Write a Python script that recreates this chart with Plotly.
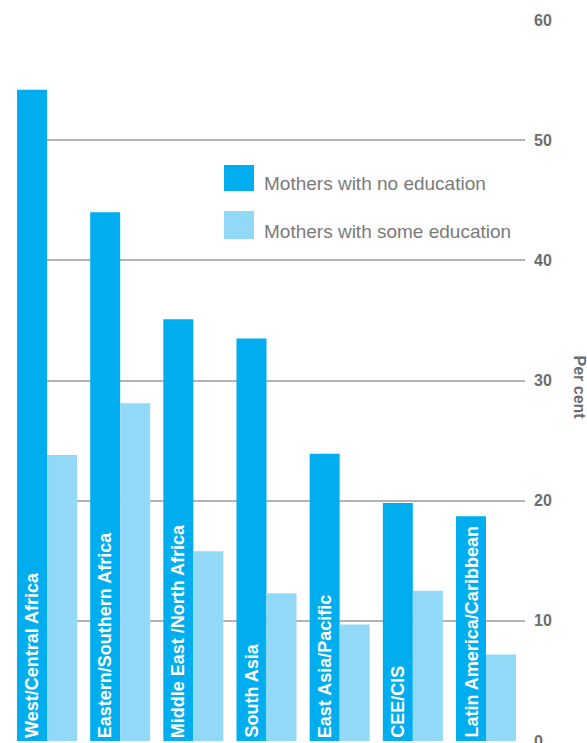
import plotly.graph_objects as go

regions = ["West/Central Africa", "Eastern/Southern Africa", "Middle East /North Africa",
           "South Asia", "East Asia/Pacific", "CEE/CIS", "Latin America/Caribbean"]
no_education = [54.2, 44.0, 35.1, 33.5, 23.9, 19.8, 18.7]
some_education = [23.8, 28.1, 15.8, 12.3, 9.7, 12.5, 7.2]
series_names = ["Mothers with no education", "Mothers with some education"]
y_ticks = [0, 10, 20, 30, 40, 50, 60]

DARK = "#00AEEF"
LIGHT = "#92D9F8"
GRAY = "#6d6d6d"
FONT = "Liberation Sans"

x = list(range(len(regions)))

fig = go.Figure()
fig.add_trace(go.Bar(x=x, y=no_education, name=series_names[0],
                     marker=dict(color=DARK, line=dict(width=0))))
fig.add_trace(go.Bar(x=x, y=some_education, name=series_names[1],
                     marker=dict(color=LIGHT, line=dict(width=0))))

W, H = 587, 743
PL, PR, PT, PB = 17, 525, 20, 741   # plot area in page pixels
ml, mt = PL, PT
mr, mb = W - PR, H - PB
pw = PR - PL
ph = PB - PT

fig.update_layout(
    width=W, height=H,
    margin=dict(l=ml, r=mr, t=mt, b=mb, pad=0, autoexpand=False),
    paper_bgcolor="white", plot_bgcolor="white",
    barmode="group", bargap=0.18, bargroupgap=0,
    showlegend=False,
    font=dict(family=FONT),
    xaxis=dict(range=[-0.41, 6.533], showticklabels=False, showgrid=False,
               zeroline=False, showline=False, ticks="", automargin=False),
    yaxis=dict(range=[0, 60], side="right", tickvals=y_ticks,
               showgrid=True, gridcolor="#b3b3b3", gridwidth=1.5,
               zeroline=False, showline=False, ticks="", automargin=False,
               ticklabelstandoff=8, ticklabeloverflow="allow",
               tickfont=dict(family=FONT, size=16, color=GRAY, weight="bold")),
)

# category labels inside dark bars
for i, r in enumerate(regions):
    fig.add_annotation(x=i - 0.205, y=0, xref="x", yref="y", text=r,
                       textangle=-90, showarrow=False, xanchor="center",
                       yanchor="bottom", yshift=1,
                       font=dict(family=FONT, size=18, color="white", weight="bold"))

# legend drawn manually (page pixel positions)
def px_x(p):
    return (p - PL) / pw

def px_y(p):
    return (PB - p) / ph

legend_items = [(series_names[0], DARK, 165, 191, 183),
                (series_names[1], LIGHT, 211, 239, 231)]
for name, col, y0, y1, yc in legend_items:
    fig.add_shape(type="rect", xref="paper", yref="paper",
                  x0=px_x(224), x1=px_x(254), y0=px_y(y1), y1=px_y(y0),
                  fillcolor=col, line=dict(width=0))
    fig.add_annotation(xref="paper", yref="paper", x=px_x(262), y=px_y(yc),
                       text=name, showarrow=False, xanchor="left", yanchor="middle",
                       font=dict(family=FONT, size=19, color="#7a7a7a"))

fig.add_annotation(xref="paper", yref="paper", x=px_x(579.5), y=px_y(387),
                   text="Per cent", textangle=90, showarrow=False,
                   xanchor="center", yanchor="middle",
                   font=dict(family=FONT, size=16, color=GRAY, weight="bold"))

fig.write_html("out.html",
               config={"displayModeBar": False},
               post_script="document.body.style.margin='0';document.body.style.overflow='hidden';")
